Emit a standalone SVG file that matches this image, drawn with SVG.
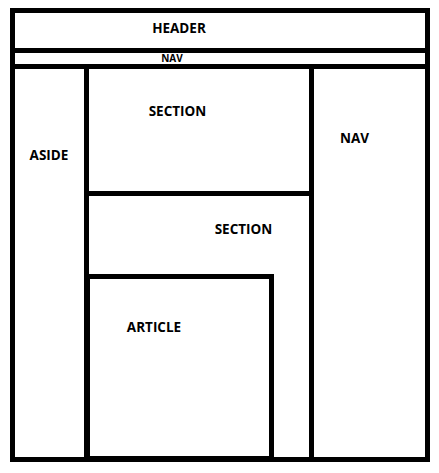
<svg xmlns="http://www.w3.org/2000/svg" width="439" height="473" viewBox="0 0 439 473">
<style>
.box{fill:none;stroke:#000;stroke-width:5}
.ln{stroke:#000;stroke-width:5;fill:none}
text{font-family:"Open Sans","Liberation Sans",sans-serif;font-weight:bold;fill:#000;text-anchor:middle}
.lbl{font-size:13.5px}
.sm{font-size:10px}
</style>
<rect width="439" height="473" fill="#fff"/>
<g id="page"><rect class="box" x="12.5" y="10.5" width="415" height="449"/></g>
<g id="connectors">
<line class="ln" x1="12.5" y1="50.5" x2="427.5" y2="50.5"/>
<line class="ln" x1="12.5" y1="66.5" x2="427.5" y2="66.5"/>
<line class="ln" x1="86.5" y1="66.5" x2="86.5" y2="459.5"/>
<line class="ln" x1="311.5" y1="66.5" x2="311.5" y2="459.5"/>
<line class="ln" x1="86.5" y1="193.5" x2="311.5" y2="193.5"/>
</g>
<g id="header"><text class="lbl" x="179" y="33">HEADER</text></g>
<g id="nav-top"><text class="sm" x="172" y="62">NAV</text></g>
<g id="aside"><text class="lbl" x="49" y="160">ASIDE</text></g>
<g id="section1"><text class="lbl" x="177.5" y="116">SECTION</text></g>
<g id="nav-right"><text class="lbl" x="354.5" y="143">NAV</text></g>
<g id="section2"><text class="lbl" x="243.5" y="234">SECTION</text></g>
<g id="article"><rect class="box" x="87.5" y="276.5" width="184" height="182"/><text class="lbl" x="154" y="332">ARTICLE</text></g>
</svg>
